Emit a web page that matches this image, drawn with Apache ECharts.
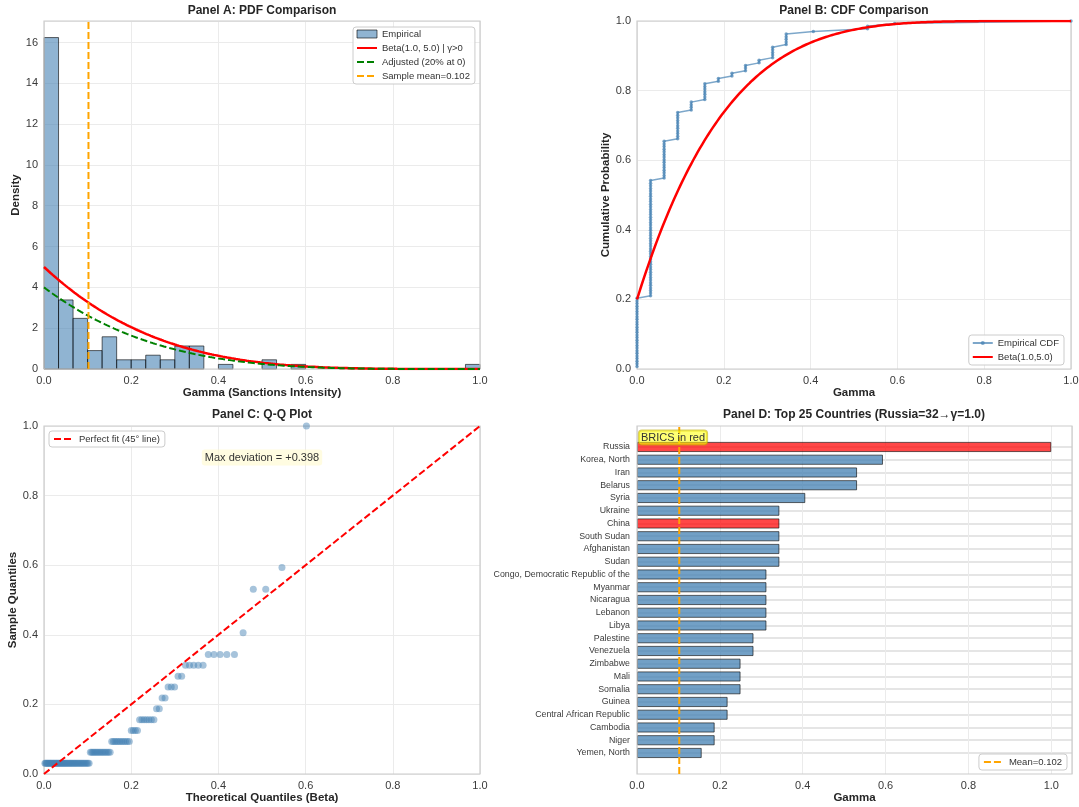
<!DOCTYPE html>
<html>
<head>
<meta charset="utf-8">
<title>Sanctions Intensity: Beta Fit Diagnostics</title>
<script src="https://cdn.jsdelivr.net/npm/echarts@6/dist/echarts.min.js"></script>
<style>
  html, body { margin: 0; padding: 0; background: #ffffff; }
  #chart { width: 1079px; height: 807px; }
</style>
</head>
<body>
<div id="chart"></div>
<script>
// ---- Data -------------------------------------------------------------
// Sanction intensity is counted in 32 steps (Russia = 32 -> gamma = 1.0).
// Distinct gamma levels and the number of countries at each level.
const gammaLevels = [0, 0.03125, 0.0625, 0.09375, 0.125, 0.15625, 0.1875, 0.21875,
                     0.25, 0.28125, 0.3125, 0.34375, 0.40625, 0.53125, 0.59375, 1.0];
const levelCounts = [27, 45, 15, 11, 4, 7, 2, 2, 3, 2, 5, 5, 1, 2, 1, 1];

const sampleMean = 0.102;     // reported sample mean of gamma
const zeroShare = 0.2;        // share of countries with gamma = 0
const betaA = 1.0;            // fitted Beta shape parameters (gamma > 0)
const betaB = 5.0;
const histBinCount = 30;
const maxDeviation = 0.398;   // largest Q-Q departure from the 45 degree line

// Top 25 countries by gamma
const topCountries = ['Russia', 'Korea, North', 'Iran', 'Belarus', 'Syria', 'Ukraine', 'China',
  'South Sudan', 'Afghanistan', 'Sudan', 'Congo, Democratic Republic of the', 'Myanmar',
  'Nicaragua', 'Lebanon', 'Libya', 'Palestine', 'Venezuela', 'Zimbabwe', 'Mali', 'Somalia',
  'Guinea', 'Central African Republic', 'Cambodia', 'Niger', 'Yemen, North'];
const topGamma = [1.0, 0.59375, 0.53125, 0.53125, 0.40625, 0.34375, 0.34375, 0.34375, 0.34375,
  0.34375, 0.3125, 0.3125, 0.3125, 0.3125, 0.3125, 0.28125, 0.28125, 0.25, 0.25, 0.25,
  0.21875, 0.21875, 0.1875, 0.1875, 0.15625];
const bricsMembers = ['Russia', 'China'];

// Axis tick labels
const unitTicks = ['0.0', '0.2', '0.4', '0.6', '0.8', '1.0'];

// ---- Beta(1, b) helpers (a = 1 gives closed forms) ---------------------
const betaPdf = x => betaB * Math.pow(1 - x, betaB - 1);
const betaCdf = x => 1 - Math.pow(1 - x, betaB);
const betaPpf = p => 1 - Math.pow(1 - p, 1 / betaB);

// ---- Derived tables -----------------------------------------------------
const allValues = [];
gammaLevels.forEach((v, i) => { for (let k = 0; k < levelCounts[i]; k++) allValues.push(v); });
const N = allValues.length;

// density histogram on [0, 1]
const binW = 1 / histBinCount;
const binCounts = new Array(histBinCount).fill(0);
gammaLevels.forEach((v, i) => {
  const b = Math.min(histBinCount - 1, Math.floor(v * histBinCount + 1e-9));
  binCounts[b] += levelCounts[i];
});
const histData = [];
binCounts.forEach((c, b) => {
  if (c > 0) histData.push([b * binW, (b + 1) * binW, c / (N * binW)]);
});
const densityMax = Math.max(...histData.map(d => d[2])) * 1.05;

// theoretical curves evaluated along x
const curveX = Array.from({ length: 201 }, (_, i) => i / 200);
const pdfCurve = curveX.map(x => [x, betaPdf(x)]);
const adjustedCurve = curveX.map(x => [x, (1 - zeroShare) * betaPdf(x)]);
const cdfCurve = curveX.map(x => [x, zeroShare + (1 - zeroShare) * betaCdf(x)]);

// empirical CDF
const ecdf = allValues.map((v, i) => [v, (i + 1) / N]);

// Q-Q points for gamma > 0
const positives = allValues.filter(v => v > 0);
const nPos = positives.length;
const qqPoints = positives.map((v, i) => [betaPpf(0.01 + 0.98 * i / (nPos - 1)), v]);

// ---- Styling ------------------------------------------------------------
const FONT = '"Liberation Sans", Arial, Helvetica, sans-serif';
const STEEL = 'rgb(70,130,180)';
const TICK = { fontSize: 11, color: '#3a3a3a', fontFamily: FONT };
const NAME = { fontSize: 11.5, fontWeight: 'bold', color: '#262626', fontFamily: FONT };
const SPLIT = { show: true, lineStyle: { color: '#ebebeb', width: 1 } };
const gridBox = { show: true, borderColor: '#cccccc', borderWidth: 1.2, z: 3, outerBoundsMode: 'none' };
const noMarker = { opacity: 0 };   // legend entries drawn as plain line samples

function unitAxis(gridIndex, name, nameGap, extra) {
  return Object.assign({
    gridIndex, type: 'value', min: 0, max: 1, interval: 0.2,
    name, nameLocation: 'middle', nameGap, nameTextStyle: NAME,
    axisLine: { show: false }, axisTick: { show: false },
    axisLabel: Object.assign({ margin: 6, formatter: v => unitTicks[Math.round(v / 0.2)] || '' }, TICK),
    splitLine: SPLIT
  }, extra || {});
}

const legendBase = {
  orient: 'vertical', selectedMode: false,
  backgroundColor: 'rgba(255,255,255,0.9)', borderColor: '#cccccc', borderWidth: 1, borderRadius: 3,
  itemWidth: 20, itemHeight: 8, itemGap: 2,
  textStyle: { fontSize: 9.5, color: '#333', fontFamily: FONT, lineHeight: 12 }
};

const titles = [
  { text: 'Panel A: PDF Comparison', x: 262, y: 11 },
  { text: 'Panel B: CDF Comparison', x: 854, y: 11 },
  { text: 'Panel C: Q-Q Plot', x: 262, y: 415 },
  { text: 'Panel D: Top 25 Countries (Russia=32\u2192\u03b3=1.0)', x: 854, y: 415 }
];

const option = {
  animation: false,
  backgroundColor: '#ffffff',
  textStyle: { fontFamily: FONT },
  grid: [
    Object.assign({ left: 44, top: 21, width: 436, height: 348 }, gridBox),
    Object.assign({ left: 637, top: 21, width: 434, height: 348 }, gridBox),
    Object.assign({ left: 44, top: 426, width: 436, height: 348 }, gridBox),
    Object.assign({ left: 637, top: 426, width: 435, height: 348 }, gridBox),
    // bar band area of panel D
    { left: 637, top: 440.6, width: 435, height: 318.75, show: false, outerBoundsMode: 'none' },
    // row guide lines of panel D, one per country at the bar centre
    { left: 637, top: 446.975, width: 435, height: 306, show: false, outerBoundsMode: 'none' }
  ],
  xAxis: [
    unitAxis(0, 'Gamma (Sanctions Intensity)', 17),
    unitAxis(1, 'Gamma', 17),
    unitAxis(2, 'Theoretical Quantiles (Beta)', 18),
    unitAxis(3, 'Gamma', 18, { max: 1.05, axisLabel: Object.assign({ margin: 6, showMaxLabel: false,
      formatter: v => v <= 1.0001 ? v.toFixed(1) : '' }, TICK) }),
    { gridIndex: 4, type: 'value', min: 0, max: 1.05, show: false },
    { gridIndex: 5, type: 'value', min: 0, max: 1.05, show: false }
  ],
  yAxis: [
    {
      gridIndex: 0, type: 'value', min: 0, max: densityMax, interval: 2,
      name: 'Density', nameLocation: 'middle', nameGap: 19, nameTextStyle: NAME,
      axisLine: { show: false }, axisTick: { show: false },
      axisLabel: Object.assign({ margin: 6, showMaxLabel: false, formatter: v => (v % 2 === 0 ? String(v) : '') }, TICK),
      splitLine: SPLIT
    },
    unitAxis(1, 'Cumulative Probability', 23),
    unitAxis(2, 'Sample Quantiles', 19),
    { gridIndex: 3, type: 'value', min: 0, max: 1, show: false },
    {
      gridIndex: 4, type: 'category', inverse: true, data: topCountries,
      axisLine: { show: false }, axisTick: { show: false }, splitLine: { show: false },
      axisLabel: { margin: 7, fontSize: 8.8, color: '#3a3a3a', fontFamily: FONT, interval: 0 }
    },
    {
      gridIndex: 5, type: 'category', inverse: true, boundaryGap: false, data: topCountries,
      axisLine: { show: false }, axisTick: { show: false }, axisLabel: { show: false },
      splitLine: { show: true, interval: 0, lineStyle: { color: '#dcdcdc', width: 1.5 } }
    }
  ],
  legend: [
    Object.assign({}, legendBase, {
      left: 353, top: 27, padding: [1, 5, 2, 3],
      data: [
        { name: 'Empirical', icon: 'rect', itemStyle: { color: 'rgba(70,130,180,0.6)', borderColor: 'rgba(0,0,0,0.6)', borderWidth: 1 } },
        { name: 'Beta(1.0, 5.0) | \u03b3>0', itemStyle: noMarker },
        { name: 'Adjusted (20% at 0)', itemStyle: noMarker },
        { name: 'Sample mean=0.102', itemStyle: noMarker }
      ]
    }),
    Object.assign({}, legendBase, {
      right: 15, top: 335, padding: [2, 5, 2, 3], itemHeight: 5,
      data: ['Empirical CDF', { name: 'Beta(1.0,5.0)', itemStyle: noMarker }]
    }),
    Object.assign({}, legendBase, {
      left: 49, top: 431, padding: [2, 5, 2, 4],
      data: [{ name: 'Perfect fit (45\u00b0 line)', itemStyle: noMarker }]
    }),
    Object.assign({}, legendBase, {
      right: 12, top: 754, padding: [2, 5, 2, 4],
      data: [{ name: 'Mean=0.102', itemStyle: noMarker }]
    })
  ],
  series: [
    // Panel A
    {
      name: 'Empirical', type: 'custom', xAxisIndex: 0, yAxisIndex: 0, z: 2,
      data: histData, encode: { x: [0, 1], y: 2 },
      renderItem: (params, api) => {
        const p0 = api.coord([api.value(0), 0]);
        const p1 = api.coord([api.value(1), api.value(2)]);
        return {
          type: 'rect',
          shape: { x: p0[0], y: p1[1], width: p1[0] - p0[0], height: p0[1] - p1[1] },
          style: { fill: 'rgba(70,130,180,0.6)', stroke: 'rgba(0,0,0,0.6)', lineWidth: 1 }
        };
      }
    },
    {
      name: 'Beta(1.0, 5.0) | \u03b3>0', type: 'line', xAxisIndex: 0, yAxisIndex: 0, z: 3,
      data: pdfCurve, symbol: 'none', lineStyle: { color: '#ff0000', width: 2.5 }, itemStyle: { color: '#ff0000' }
    },
    {
      name: 'Adjusted (20% at 0)', type: 'line', xAxisIndex: 0, yAxisIndex: 0, z: 3,
      data: adjustedCurve, symbol: 'none',
      lineStyle: { color: '#008000', width: 2, type: [7, 3] }, itemStyle: { color: '#008000' }
    },
    {
      name: 'Sample mean=0.102', type: 'line', xAxisIndex: 0, yAxisIndex: 0, z: 4,
      data: [[sampleMean, 0], [sampleMean, densityMax]], symbol: 'none',
      lineStyle: { color: '#ffa500', width: 2, type: [7, 3] }, itemStyle: { color: '#ffa500' }
    },
    // Panel B
    {
      name: 'Empirical CDF', type: 'line', xAxisIndex: 1, yAxisIndex: 1, z: 3,
      data: ecdf, symbol: 'circle', symbolSize: 3.5, showSymbol: true,
      lineStyle: { color: STEEL, width: 1.5, opacity: 0.7 },
      itemStyle: { color: STEEL, opacity: 0.7 }
    },
    {
      name: 'Beta(1.0,5.0)', type: 'line', xAxisIndex: 1, yAxisIndex: 1, z: 4,
      data: cdfCurve, symbol: 'none', lineStyle: { color: '#ff0000', width: 2.5 }, itemStyle: { color: '#ff0000' }
    },
    // Panel C
    {
      name: 'Q-Q', type: 'scatter', xAxisIndex: 2, yAxisIndex: 2, z: 3,
      data: qqPoints, symbolSize: 7, itemStyle: { color: 'rgba(70,130,180,0.6)' }
    },
    {
      name: 'Perfect fit (45\u00b0 line)', type: 'line', xAxisIndex: 2, yAxisIndex: 2, z: 4,
      data: [[0, 0], [1, 1]], symbol: 'none',
      lineStyle: { color: '#ff0000', width: 2, type: [7, 3] }, itemStyle: { color: '#ff0000' }
    },
    // Panel D
    {
      name: 'Gamma by country', type: 'bar', xAxisIndex: 4, yAxisIndex: 4, z: 2,
      barCategoryGap: '20%',
      data: topGamma.map((v, i) => ({
        value: v,
        itemStyle: { color: bricsMembers.includes(topCountries[i]) ? 'rgba(255,0,0,0.72)' : 'rgba(70,130,180,0.76)' }
      })),
      itemStyle: { borderColor: 'rgba(0,0,0,0.6)', borderWidth: 1 }
    },
    {
      name: 'Mean=0.102', type: 'line', xAxisIndex: 3, yAxisIndex: 3, z: 5,
      data: [[sampleMean, 0], [sampleMean, 1]], symbol: 'none',
      lineStyle: { color: '#ffa500', width: 2, type: [7, 3] }, itemStyle: { color: '#ffa500' }
    }
  ],
  graphic: [
    ...titles.map(t => ({
      type: 'text', x: t.x, y: t.y, silent: true,
      style: { text: t.text, fontSize: 12, fontWeight: 'bold', fontFamily: FONT, fill: '#262626', align: 'center', verticalAlign: 'middle' }
    })),
    {
      type: 'text', x: 262, y: 457.5, z: 10, silent: true,
      style: {
        text: 'Max deviation = +' + maxDeviation.toFixed(3), fontSize: 11, fontFamily: FONT, fill: '#333',
        align: 'center', verticalAlign: 'middle',
        backgroundColor: 'rgba(255,250,205,0.6)', padding: [3, 3, 2, 3], borderRadius: 3
      }
    },
    {
      type: 'text', x: 673, y: 437.5, z: 10, silent: true,
      style: {
        text: 'BRICS in red', fontSize: 11, fontFamily: FONT, fill: '#333',
        align: 'center', verticalAlign: 'middle',
        backgroundColor: 'rgba(255,255,0,0.55)', borderColor: 'rgba(190,170,0,0.6)', borderWidth: 1,
        padding: [2, 2, 1, 2], borderRadius: 3
      }
    }
  ]
};

const chart = echarts.init(document.getElementById('chart'), null, { renderer: 'canvas' });
chart.setOption(option);
</script>
</body>
</html>
